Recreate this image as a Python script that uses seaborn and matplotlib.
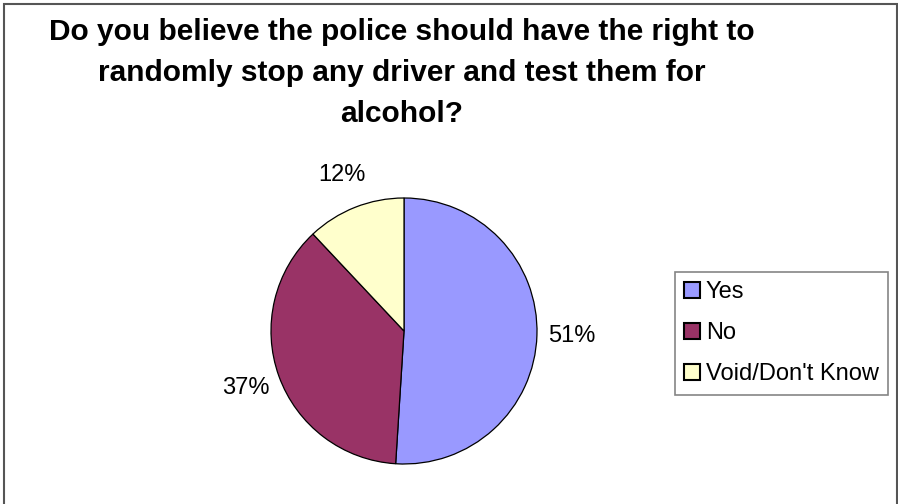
import matplotlib
matplotlib.use("Agg")
import matplotlib.pyplot as plt
import seaborn as sns
from matplotlib.patches import Rectangle

# chart data
answers = ["Yes", "No", "Void/Don't Know"]
shares = [51, 37, 12]
slice_colors = ["#9999FF", "#993366", "#FFFFCC"]
title = ("Do you believe the police should have the right to\n"
         "randomly stop any driver and test them for\n"
         "alcohol?")

sns.set_theme(style="white")
plt.rcParams['font.family'] = ['Liberation Sans', 'DejaVu Sans']
plt.rcParams['text.color'] = 'black'

W, H = 898, 504
fig = plt.figure(figsize=(W / 100, H / 100), dpi=100)
fig.patch.set_facecolor("white")

# outer chart border (runs off the bottom edge like the original)
fig.add_artist(Rectangle((3.5 / W, -0.02), 893 / W, 1.02 - 3.5 / H,
                         transform=fig.transFigure, fill=False,
                         edgecolor="#555555", linewidth=1.5))

# pie axes: square of 266 px centred on (404, 331)
cx, cy, r = 404, 331, 133
ax = fig.add_axes([(cx - r) / W, (H - cy - r) / H, 2 * r / W, 2 * r / H])
wedges, _, pct_texts = ax.pie(shares, colors=sns.color_palette(slice_colors),
                              startangle=90, counterclock=False,
                              autopct='%1.0f%%', pctdistance=1.26,
                              wedgeprops=dict(edgecolor="black", linewidth=0.9),
                              textprops=dict(fontsize=17, color="black"))
ax.set_xlim(-1, 1)
ax.set_ylim(-1, 1)
ax.axis("off")

fig.text(402 / W, 1 - 73 / H, title, ha="center", va="center",
         fontsize=21.5, fontweight="bold", linespacing=1.6, color="black")

leg = fig.legend(wedges, answers, loc="upper left",
                 bbox_to_anchor=(675 / W, 1 - 272 / H), borderaxespad=0,
                 fontsize=17, frameon=True, fancybox=False,
                 handlelength=0.65, handleheight=0.65, handletextpad=0.25,
                 labelspacing=0.8, borderpad=0.4)
leg.get_frame().set_edgecolor("#666666")
leg.get_frame().set_linewidth(1.2)
for h in leg.legend_handles:
    h.set_edgecolor("black")
    h.set_linewidth(1.5)
for t in leg.get_texts():
    t.set_color("black")

fig.savefig("out.png", dpi=100)
